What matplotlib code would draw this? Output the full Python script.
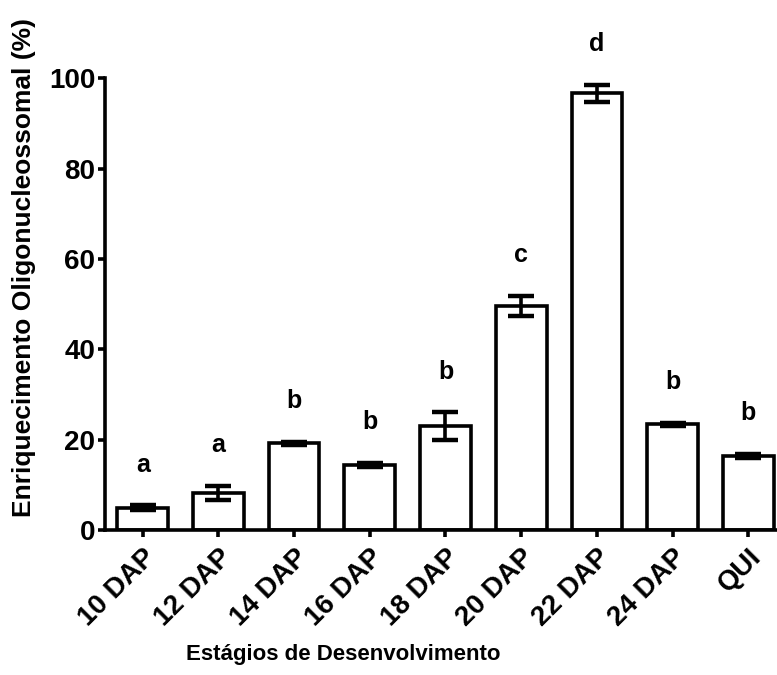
import matplotlib
matplotlib.use("Agg")
import matplotlib.pyplot as plt
import numpy as np

plt.rcParams['font.family'] = ['Liberation Sans', 'DejaVu Sans']
plt.rcParams['font.weight'] = 'bold'

# data
stages = ["10 DAP", "12 DAP", "14 DAP", "16 DAP", "18 DAP", "20 DAP", "22 DAP", "24 DAP", "QUI"]
means = [4.9, 8.2, 19.2, 14.4, 23.0, 49.6, 96.7, 23.4, 16.4]
errors = [0.5, 1.6, 0.3, 0.4, 3.0, 2.3, 1.9, 0.3, 0.4]
letters = ["a", "a", "b", "b", "b", "c", "d", "b", "b"]

LW = 2.6

fig = plt.figure(figsize=(7.77, 6.75), dpi=100)
ax = fig.add_axes([0.135, 0.215, 0.865, 0.669])

x = np.arange(len(stages))
ax.bar(x, means, width=0.67, color="white", edgecolor="black", linewidth=LW, zorder=2)
ax.errorbar(x, means, yerr=errors, fmt="none", ecolor="black", elinewidth=LW,
            capsize=9.5, capthick=LW + 0.6, zorder=3)

for xi, m, e, lab in zip(x, means, errors, letters):
    ax.text(xi, m + e + 9, lab, ha="center", va="center", fontsize=18,
            fontweight="bold", clip_on=False)

ax.set_xlim(-0.5, 8.38)
ax.set_ylim(0, 100)
ax.set_yticks([0, 20, 40, 60, 80, 100])
ax.set_xticks(x)
ax.set_xticklabels(stages, rotation=45, ha="right", va="top", rotation_mode="anchor")

for s in ["top", "right"]:
    ax.spines[s].set_visible(False)
for s in ["left", "bottom"]:
    ax.spines[s].set_linewidth(LW)

ax.tick_params(axis="y", length=5, width=LW, labelsize=20, pad=2)
ax.tick_params(axis="x", length=5, width=LW, labelsize=20, pad=5)
for t in ax.get_xticklabels() + ax.get_yticklabels():
    t.set_fontweight("bold")

ax.set_ylabel("Enriquecimento Oligonucleossomal (%)", fontsize=19, fontweight="bold")
ax.yaxis.set_label_coords(-0.121, 0.58)
ax.yaxis.label.set_verticalalignment("center")

ax.set_xlabel("Estágios de Desenvolvimento", fontsize=16, fontweight="bold")
ax.xaxis.set_label_coords(0.354, -0.2765)
ax.xaxis.label.set_verticalalignment("center")

fig.savefig("out.png", dpi=100)
